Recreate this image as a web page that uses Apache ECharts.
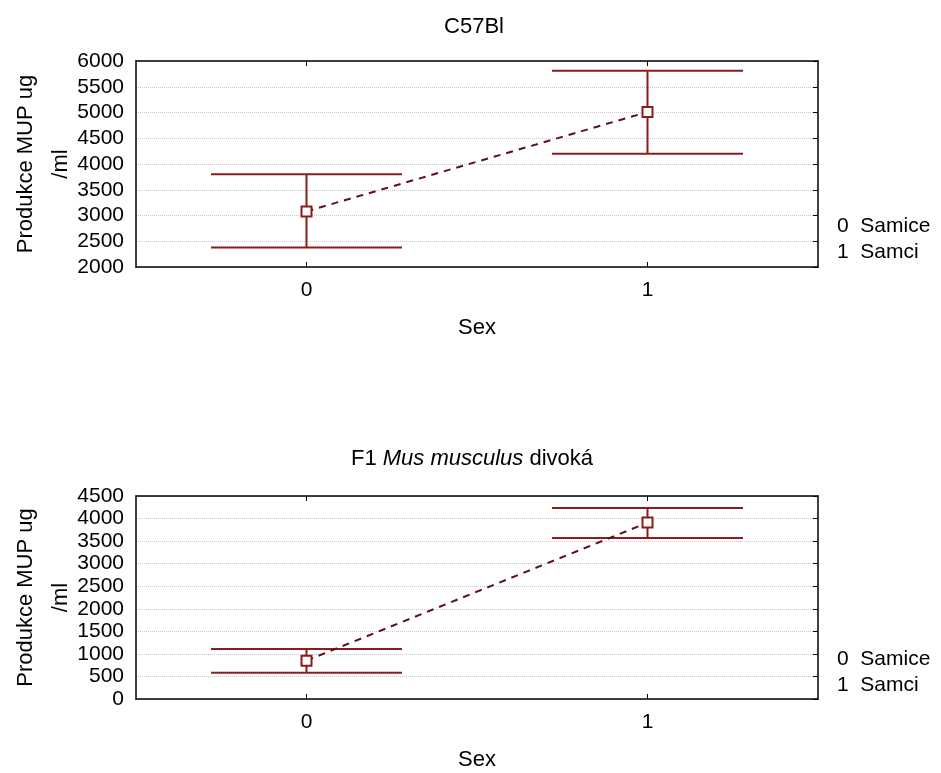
<!DOCTYPE html>
<html>
<head>
<meta charset="utf-8">
<script src="https://cdn.jsdelivr.net/npm/echarts@6/dist/echarts.min.js"></script>
<style>
  html, body { margin: 0; padding: 0; background: #fff; }
  #chart { width: 941px; height: 773px; }
</style>
</head>
<body>
<div id="chart"></div>
<script>
// categories on the x axis (Sex)
var categories = ['0', '1'];
var xPositions = [0, 1];

// C57Bl: means and interval ends
var c57Mean = [3080, 5010];
var c57Low = [2380, 4200];
var c57High = [3800, 5810];

// F1 Mus musculus: means and interval ends
var f1Mean = [850, 3910];
var f1Low = [580, 3570];
var f1High = [1110, 4235];

var legendLines = ['0  Samice', '1  Samci'];

var FONT = '"Liberation Sans", Arial, sans-serif';
var RED = '#8a1c1c';
var DASH = '#5e1016';
var CAP = 0.28;

function pairs(a){
    return xPositions.map(function(x, i){ return [x, a[i]]; });
}

function errorData(low, high){
    return xPositions.map(function(x, i){ return [x, low[i], high[i]]; });
}

function renderBar(params, api){
    var x = api.value(0);
    var lo = api.coord([x, api.value(1)]);
    var hi = api.coord([x, api.value(2)]);
    var l1 = api.coord([x - CAP, api.value(1)]);
    var r1 = api.coord([x + CAP, api.value(1)]);
    var l2 = api.coord([x - CAP, api.value(2)]);
    var r2 = api.coord([x + CAP, api.value(2)]);
    var style = { stroke: RED, lineWidth: 2 };
    return {
        type: 'group',
        children: [
            { type: 'line', shape: { x1: lo[0], y1: lo[1], x2: hi[0], y2: hi[1] }, style: style },
            { type: 'line', shape: { x1: l1[0], y1: l1[1], x2: r1[0], y2: r1[1] }, style: style },
            { type: 'line', shape: { x1: l2[0], y1: l2[1], x2: r2[0], y2: r2[1] }, style: style }
        ]
    };
}

function xAxes(grid){
    var base = {
        type: 'value', gridIndex: grid, min: -0.5, max: 1.5,
        axisLine: { show: true, onZero: false, lineStyle: { color: '#000', width: 1.5 } },
        splitLine: { show: false }
    };
    return [
        Object.assign({}, base, {
            position: 'bottom',
            name: 'Sex', nameLocation: 'middle', nameGap: 50,
            nameTextStyle: { fontFamily: FONT, fontSize: 22, color: '#000' },
            axisTick: { show: true, inside: true, length: 5, customValues: xPositions, lineStyle: { color: '#000' } },
            axisLabel: { show: true, customValues: xPositions, margin: 13, fontFamily: FONT, fontSize: 21, color: '#000',
                formatter: function(v){ return categories[xPositions.indexOf(v)]; } }
        }),
        Object.assign({}, base, {
            position: 'top',
            axisTick: { show: true, inside: true, length: 5, customValues: xPositions, lineStyle: { color: '#000' } },
            axisLabel: { show: false }
        })
    ];
}

function yAxes(grid, min, max){
    return [
        {
            type: 'value', gridIndex: grid, min: min, max: max, interval: 500, position: 'left',
            name: 'Produkce MUP ug\n/ml', nameLocation: 'middle', nameRotate: 90, nameGap: 58,
            nameMoveOverlap: false,
            nameTextStyle: { fontFamily: FONT, fontSize: 22, color: '#000', lineHeight: 35, align: 'center' },
            axisLine: { show: true, onZero: false, lineStyle: { color: '#000', width: 1.5 } },
            axisTick: { show: false },
            axisLabel: { fontFamily: FONT, fontSize: 21, color: '#000', margin: 12,
                formatter: function(v){ return String(v); } },
            splitLine: { show: true, lineStyle: { color: '#c8c8c8', type: 'dotted', width: 1 } }
        },
        {
            type: 'value', gridIndex: grid, min: min, max: max, interval: 500, position: 'right',
            axisLine: { show: true, onZero: false, lineStyle: { color: '#000', width: 1.5 } },
            axisTick: { show: true, inside: true, length: 5, lineStyle: { color: '#000' } },
            axisLabel: { show: false },
            splitLine: { show: false }
        }
    ];
}

function meanSeries(xi, yi, data){
    return {
        type: 'line', xAxisIndex: xi, yAxisIndex: yi, data: pairs(data),
        symbol: 'rect', symbolSize: 10, showSymbol: true,
        itemStyle: { color: '#fff', borderColor: RED, borderWidth: 2 },
        lineStyle: { color: DASH, width: 2, type: [7, 6] },
        z: 5, animation: false
    };
}

function barSeries(xi, yi, low, high){
    return {
        type: 'custom', xAxisIndex: xi, yAxisIndex: yi, data: errorData(low, high),
        renderItem: renderBar, z: 3, animation: false
    };
}

var chart = echarts.init(document.getElementById('chart'));
var option = {
    backgroundColor: '#fff',
    animation: false,
    title: [
        { text: 'C57Bl', left: 469, top: 11, textAlign: 'center',
          textStyle: { fontFamily: FONT, fontSize: 22, fontWeight: 'normal', color: '#000' } },
        { text: '{n|F1 }{i|Mus musculus}{n| divoká}', left: 467, top: 443, textAlign: 'center',
          textStyle: { fontWeight: 'normal', rich: {
              n: { fontFamily: FONT, fontSize: 22, fontWeight: 'normal', color: '#000' },
              i: { fontFamily: FONT, fontSize: 22, fontWeight: 'normal', color: '#000', fontStyle: 'italic' }
          } } }
    ],
    grid: [
        { left: 136, right: 123, top: 61, height: 206, outerBoundsMode: 'none' },
        { left: 136, right: 123, top: 496, height: 203, outerBoundsMode: 'none' }
    ],
    xAxis: xAxes(0).concat(xAxes(1)),
    yAxis: yAxes(0, 2000, 6000).concat(yAxes(1, 0, 4500)),
    graphic: [
        { type: 'text', left: 837, top: 213, style: { text: legendLines.join('\n'), fontFamily: FONT, fontSize: 21, lineHeight: 26, fill: '#000' } },
        { type: 'text', left: 837, top: 646, style: { text: legendLines.join('\n'), fontFamily: FONT, fontSize: 21, lineHeight: 26, fill: '#000' } }
    ],
    series: [
        barSeries(0, 0, c57Low, c57High),
        meanSeries(0, 0, c57Mean),
        barSeries(2, 2, f1Low, f1High),
        meanSeries(2, 2, f1Mean)
    ]
};
chart.setOption(option);
</script>
</body>
</html>
